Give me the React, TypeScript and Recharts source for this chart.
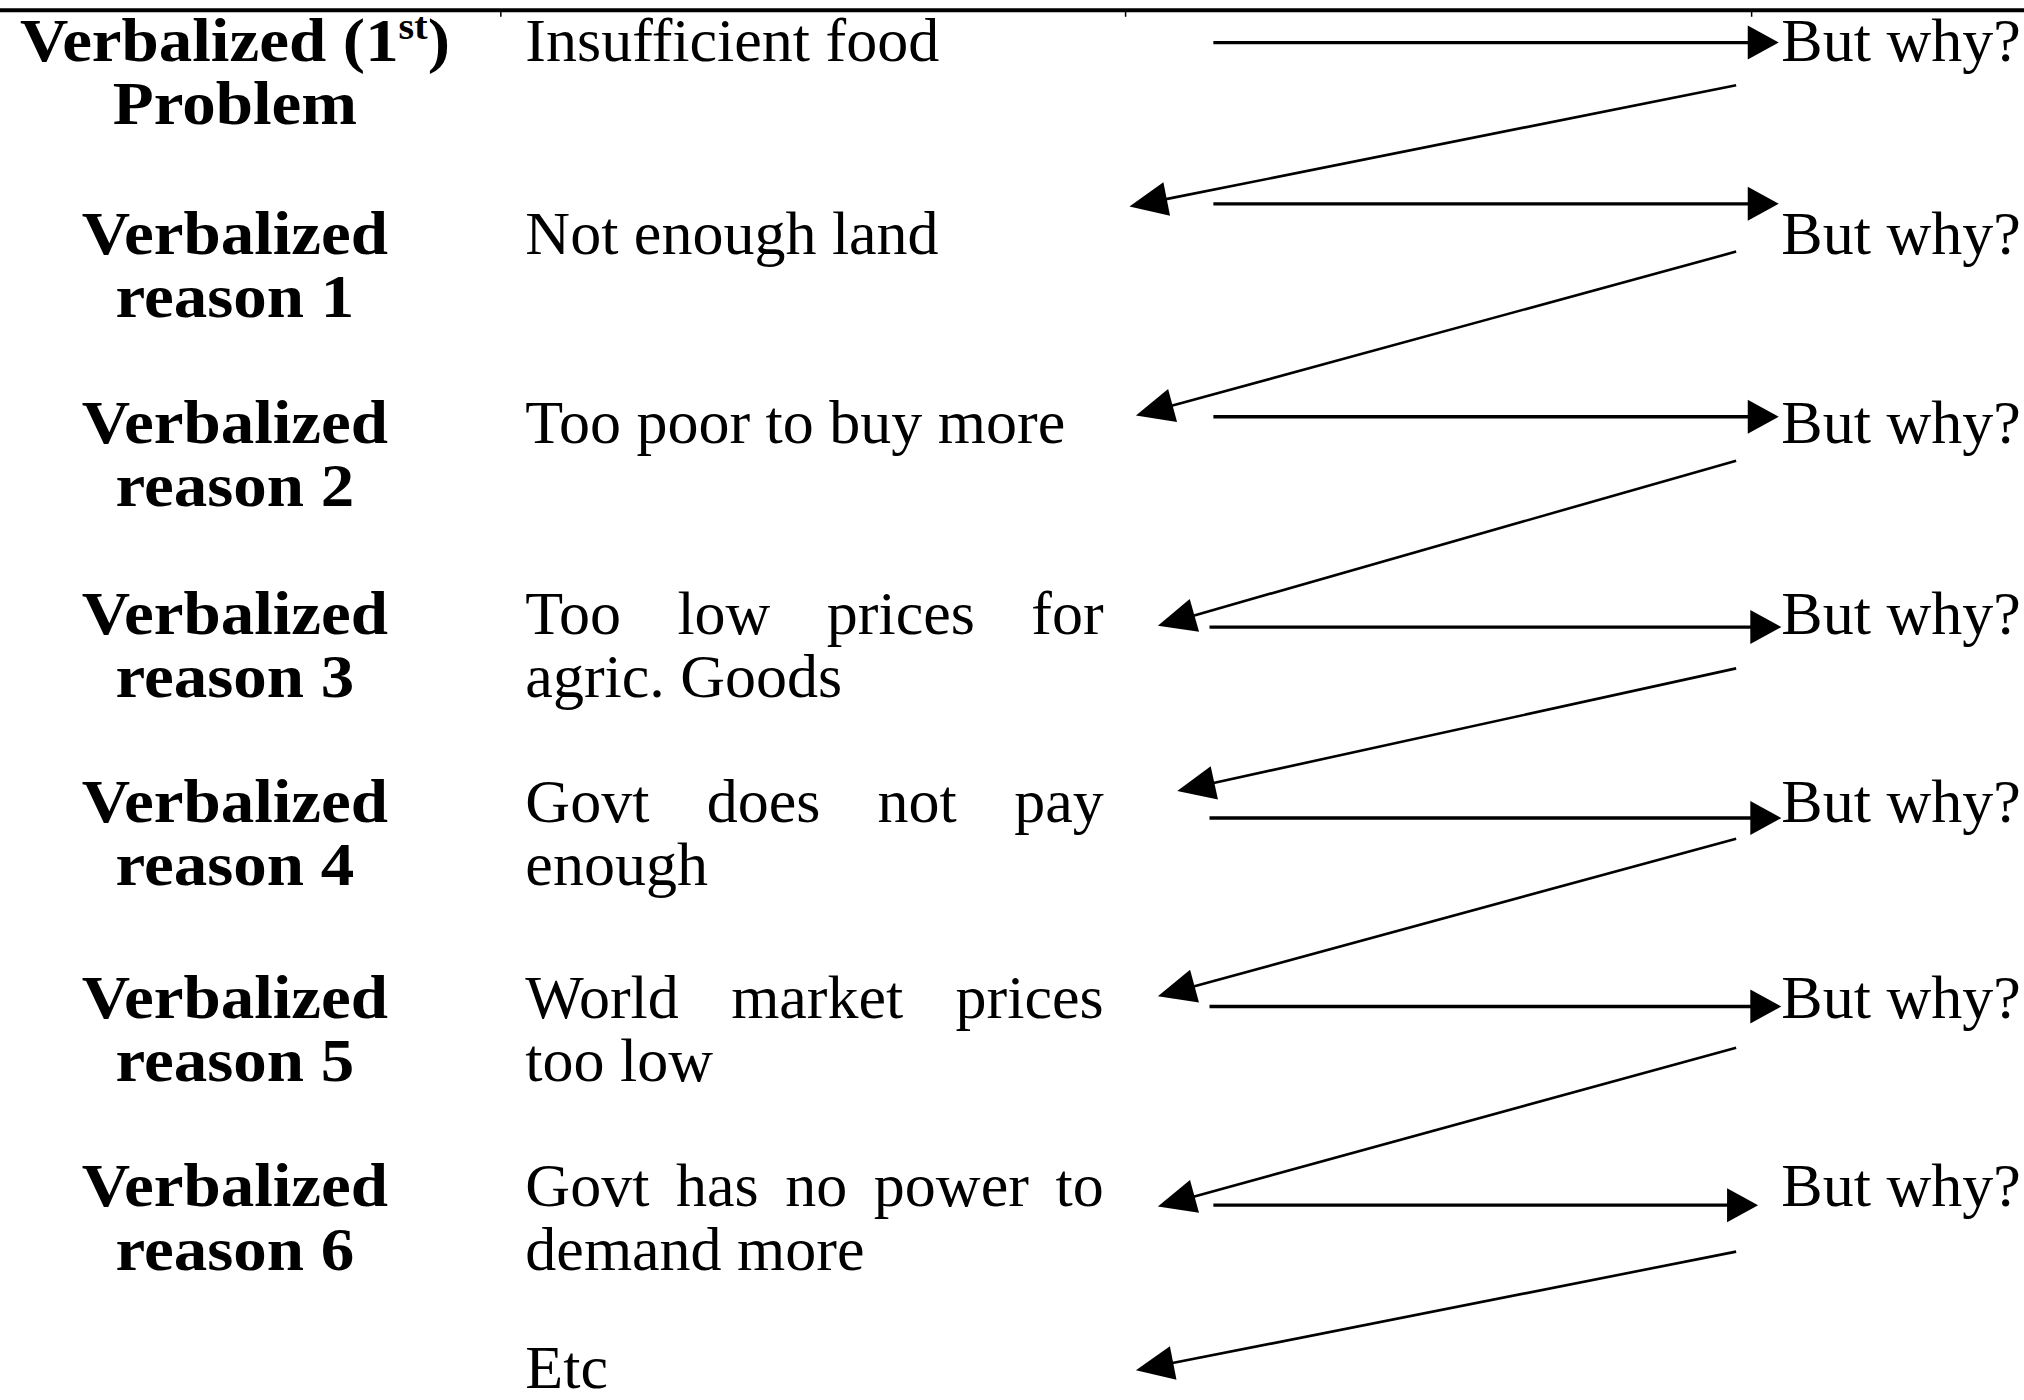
import React from "react";
import { ScatterChart, XAxis, YAxis, Scatter, ReferenceLine } from "recharts";

// the diagram is laid out in "reference units" (the picture read at 1568 x 1085)
const X_MAX = 1568;
const Y_MAX = 1085;
const WIDTH = 2024;
const HEIGHT = 1400;

const stepLabels = [
  ["Verbalized (1st)", "Problem"],
  ["Verbalized", "reason 1"],
  ["Verbalized", "reason 2"],
  ["Verbalized", "reason 3"],
  ["Verbalized", "reason 4"],
  ["Verbalized", "reason 5"],
  ["Verbalized", "reason 6"],
];

const answers = [
  ["Insufficient food"],
  ["Not enough land"],
  ["Too poor to buy more"],
  ["Too low prices for", "agric. Goods"],
  ["Govt does not pay", "enough"],
  ["World market prices", "too low"],
  ["Govt has no power to", "demand more"],
  ["Etc"],
];

const questionLabel = "But why?";

// baseline of the first text line in each row
const rowBaselines = [47, 197, 343, 491, 637, 789, 935, 1076];
const lineGap = 49;

// "answer -> But why?" arrows
const forwardArrows = [
  { y: 33, from: 940, to: 1378 },
  { y: 158, from: 940, to: 1378 },
  { y: 323, from: 940, to: 1378 },
  { y: 486, from: 937, to: 1380 },
  { y: 634, from: 937, to: 1380 },
  { y: 780, from: 937, to: 1380 },
  { y: 934, from: 940, to: 1362 },
];

// "But why? -> next answer" arrows
const backArrows = [
  { x1: 1345, y1: 66, x2: 875, y2: 160 },
  { x1: 1345, y1: 195, x2: 880, y2: 322 },
  { x1: 1345, y1: 357, x2: 897, y2: 485 },
  { x1: 1345, y1: 518, x2: 912, y2: 613 },
  { x1: 1345, y1: 650, x2: 897, y2: 772 },
  { x1: 1345, y1: 812, x2: 897, y2: 935 },
  { x1: 1345, y1: 970, x2: 880, y2: 1062 },
];

const columnTicks = [388, 872, 1357];

const STEP_X = 182;
const ANSWER_X = 407;
const ANSWER_RIGHT = 855;
const QUESTION_X = 1380;
const RULE_Y = 8;

const FONT = '"Liberation Serif", "Times New Roman", serif';
const FONT_SIZE = 62;

type TextItem = {
  x: number;
  y: number;
  text: string;
  role: "step" | "answer" | "question";
  justify?: boolean;
};

const stepItems: TextItem[] = stepLabels.flatMap((lines, i) =>
  lines.map((text, j) => ({
    x: STEP_X,
    y: rowBaselines[i] + j * lineGap,
    text,
    role: "step" as const,
  }))
);

const answerItems: TextItem[] = answers.flatMap((lines, i) =>
  lines.map((text, j) => ({
    x: ANSWER_X,
    y: rowBaselines[i] + j * lineGap,
    text,
    role: "answer" as const,
    justify: j < lines.length - 1,
  }))
);

const questionItems: TextItem[] = forwardArrows.map((_, i) => ({
  x: QUESTION_X,
  y: rowBaselines[i],
  text: questionLabel,
  role: "question" as const,
}));

let ctx: CanvasRenderingContext2D | null = null;
const measure = (text: string, font: string) => {
  if (!ctx) ctx = document.createElement("canvas").getContext("2d");
  if (!ctx) return text.length * FONT_SIZE * 0.45;
  ctx.font = font;
  return ctx.measureText(text).width;
};

const pxPerUnit = WIDTH / X_MAX;

const renderText = (props: any) => {
  const { cx, cy, payload } = props;
  const item = payload as TextItem;

  if (item.role === "step") {
    const m = item.text.match(/^(.*\d)(st|nd|rd|th)(\).*)$/);
    return (
      <text
        transform={`translate(${cx},${cy}) scale(1.08,1)`}
        textAnchor="middle"
        fontFamily={FONT}
        fontSize={FONT_SIZE}
        fontWeight="bold"
        fill="#000"
      >
        {m ? (
          <>
            <tspan>{m[1]}</tspan>
            <tspan fontSize={FONT_SIZE * 0.6} dy={-22}>
              {m[2]}
            </tspan>
            <tspan dy={22}>{m[3]}</tspan>
          </>
        ) : (
          item.text
        )}
      </text>
    );
  }

  if (item.justify) {
    const font = `${FONT_SIZE}px ${FONT}`;
    const words = item.text.split(" ");
    const widths = words.map((w) => measure(w, font));
    const target = (ANSWER_RIGHT - ANSWER_X) * pxPerUnit;
    const gap = (target - widths.reduce((a, b) => a + b, 0)) / (words.length - 1);
    let pos = cx;
    return (
      <text y={cy} fontFamily={FONT} fontSize={FONT_SIZE} fill="#000">
        {words.map((w, i) => {
          const x = pos;
          pos += widths[i] + gap;
          return (
            <tspan key={i} x={x}>
              {w}
            </tspan>
          );
        })}
      </text>
    );
  }

  return (
    <text x={cx} y={cy} fontFamily={FONT} fontSize={FONT_SIZE} fill="#000">
      {item.text}
    </text>
  );
};

const arrowShape = (head: number, half: number, width: number) => (props: any) => {
  const { x1, y1, x2, y2 } = props;
  const dx = x2 - x1;
  const dy = y2 - y1;
  const len = Math.sqrt(dx * dx + dy * dy) || 1;
  const ux = dx / len;
  const uy = dy / len;
  const bx = x2 - ux * head;
  const by = y2 - uy * head;
  const pts = [
    `${x2},${y2}`,
    `${bx - uy * half},${by + ux * half}`,
    `${bx + uy * half},${by - ux * half}`,
  ].join(" ");
  return (
    <g>
      <line x1={x1} y1={y1} x2={bx + ux * 2} y2={by + uy * 2} stroke="#000" strokeWidth={width} />
      <polygon points={pts} fill="#000" />
    </g>
  );
};

const forwardShape = arrowShape(31, 17, 3.4);
const backShape = arrowShape(38, 17, 2.6);

export default function App() {
  return (
    <div style={{ position: "absolute", left: 0, top: 0, background: "#fff" }}>
      <ScatterChart
        width={WIDTH}
        height={HEIGHT}
        margin={{ top: 0, right: 0, bottom: 0, left: 0 }}
      >
        <XAxis type="number" dataKey="x" domain={[0, X_MAX]} hide />
        <YAxis type="number" dataKey="y" domain={[0, Y_MAX]} reversed hide width={0} />

        <ReferenceLine y={RULE_Y} stroke="#000" strokeWidth={4} ifOverflow="visible" />
        {columnTicks.map((x) => (
          <ReferenceLine
            key={`tick-${x}`}
            segment={[
              { x, y: RULE_Y },
              { x, y: RULE_Y + 5 },
            ]}
            stroke="#000"
            strokeWidth={1.5}
            ifOverflow="visible"
          />
        ))}

        {forwardArrows.map((a, i) => (
          <ReferenceLine
            key={`fwd-${i}`}
            segment={[
              { x: a.from, y: a.y },
              { x: a.to, y: a.y },
            ]}
            shape={forwardShape}
            ifOverflow="visible"
          />
        ))}
        {backArrows.map((a, i) => (
          <ReferenceLine
            key={`back-${i}`}
            segment={[
              { x: a.x1, y: a.y1 },
              { x: a.x2, y: a.y2 },
            ]}
            shape={backShape}
            ifOverflow="visible"
          />
        ))}

        <Scatter data={stepItems} shape={renderText} isAnimationActive={false} />
        <Scatter data={answerItems} shape={renderText} isAnimationActive={false} />
        <Scatter data={questionItems} shape={renderText} isAnimationActive={false} />
      </ScatterChart>
    </div>
  );
}
